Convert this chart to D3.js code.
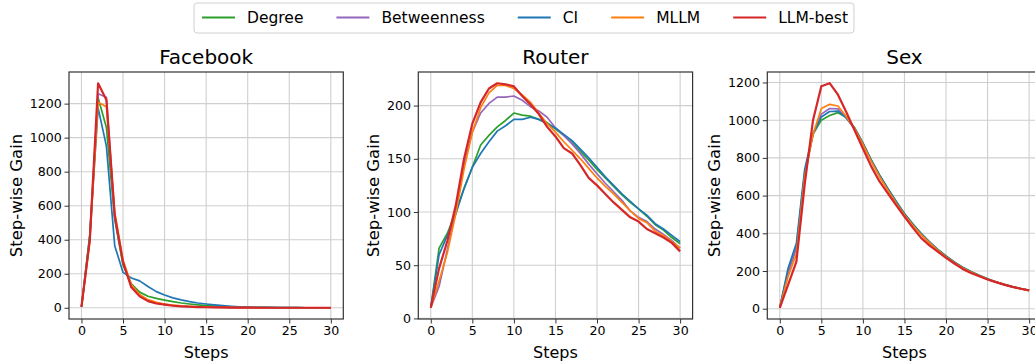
<html>
<head>
    <script src="https://d3js.org/d3.v7.min.js"></script>
    <style>
        body { margin: 0; background: #fff; }
        text { font-family: "DejaVu Sans", sans-serif; fill: #000; }
    </style>
</head>

<body>
    <div id="cont"></div>

    <script>
        // ---- data ----
        var steps = d3.range(0, 31);
        var methods = ["Degree", "Betweenness", "CI", "MLLM", "LLM-best"];
        var colors = ["#2ca02c", "#9467bd", "#1f77b4", "#ff7f0e", "#d62728"];
        var xTicks = [0, 5, 10, 15, 20, 25, 30];

        var facebookDegree = [5, 430, 1235, 1060, 520, 250, 140, 92, 68, 55, 45, 36, 28, 22, 17, 13, 10, 8, 6, 4, 3, 2, 2, 1, 1, 1, 1, 0, 0, 0, 0];
        var facebookBetweenness = [5, 400, 1258, 1238, 530, 265, 125, 70, 42, 28, 20, 14, 10, 7, 5, 4, 3, 2, 2, 1, 1, 1, 1, 0, 0, 0, 0, 0, 0, 0, 0];
        var facebookCI = [5, 420, 1175, 950, 365, 208, 175, 158, 125, 95, 75, 58, 46, 36, 28, 22, 17, 13, 9, 6, 4, 3, 2, 2, 1, 1, 1, 0, 0, 0, 0];
        var facebookMLLM = [5, 390, 1208, 1182, 560, 280, 135, 78, 48, 32, 22, 16, 11, 8, 6, 4, 3, 2, 2, 1, 1, 1, 1, 0, 0, 0, 0, 0, 0, 0, 0];
        var facebookLLM = [5, 395, 1320, 1222, 545, 268, 120, 67, 39, 25, 18, 12, 8, 6, 4, 3, 2, 2, 1, 1, 1, 0, 0, 0, 0, 0, 0, 0, 0, 0, 0];
        var facebookYTicks = [0, 200, 400, 600, 800, 1000, 1200];

        var routerDegree = [10, 66, 80, 100, 122, 142, 163, 172, 180, 186, 193, 191, 190, 187, 184, 178, 172, 165, 157, 149, 140, 132, 124, 116, 109, 103, 96, 88, 83, 76, 70];
        var routerBetweenness = [10, 30, 65, 100, 145, 175, 193, 202, 208, 208, 209, 205, 199, 195, 189, 179, 172, 164, 155, 145, 136, 127, 119, 111, 101, 95, 91, 84, 79, 73, 66];
        var routerCI = [10, 60, 78, 98, 122, 142, 155, 166, 176, 181, 187, 187, 189, 187, 183, 179, 173, 167, 159, 151, 142, 133, 125, 117, 110, 103, 97, 89, 84, 78, 72];
        var routerMLLM = [10, 35, 62, 98, 140, 175, 198, 212, 219, 219, 216, 210, 203, 193, 183, 175, 166, 158, 150, 141, 132, 124, 117, 109, 101, 94, 90, 82, 78, 72, 66];
        var routerLLM = [10, 47, 73, 106, 150, 183, 203, 216, 221, 220, 218, 209, 201, 192, 180, 171, 160, 155, 144, 132, 125, 117, 109, 102, 95, 91, 84, 80, 76, 71, 63];
        var routerYTicks = [0, 50, 100, 150, 200];

        var sexDegree = [5, 197, 330, 720, 925, 1000, 1025, 1040, 1015, 960, 880, 790, 710, 638, 570, 505, 450, 400, 355, 315, 280, 248, 220, 197, 177, 159, 143, 129, 117, 107, 98];
        var sexBetweenness = [5, 190, 320, 715, 925, 1032, 1062, 1060, 1012, 955, 875, 785, 705, 632, 565, 500, 446, 396, 352, 312, 277, 246, 218, 195, 175, 157, 142, 128, 116, 106, 97];
        var sexCI = [5, 215, 347, 740, 930, 1017, 1046, 1048, 1012, 958, 878, 788, 708, 636, 568, 503, 448, 398, 354, 314, 279, 247, 219, 196, 176, 158, 142, 128, 116, 106, 97];
        var sexMLLM = [5, 171, 290, 700, 925, 1062, 1084, 1075, 1020, 955, 872, 782, 700, 628, 560, 497, 443, 393, 350, 310, 275, 244, 216, 194, 174, 156, 141, 127, 115, 105, 96];
        var sexLLM = [5, 127, 250, 660, 1000, 1180, 1196, 1135, 1043, 946, 850, 755, 675, 612, 550, 489, 430, 376, 336, 303, 270, 240, 211, 190, 172, 155, 141, 128, 116, 106, 97];
        var sexYTicks = [0, 200, 400, 600, 800, 1000, 1200];

        var panels = [
            { title: "Facebook", series: [facebookDegree, facebookBetweenness, facebookCI, facebookMLLM, facebookLLM], yTicks: facebookYTicks, left: 69 },
            { title: "Router", series: [routerDegree, routerBetweenness, routerCI, routerMLLM, routerLLM], yTicks: routerYTicks, left: 418.3 },
            { title: "Sex", series: [sexDegree, sexBetweenness, sexCI, sexMLLM, sexLLM], yTicks: sexYTicks, left: 767.3 }
        ];

        // ---- layout ----
        var W = 1035, H = 362;
        var plotTop = 72, plotW = 274.3, plotH = 247;

        var svg = d3.select("#cont").append("svg")
            .attr("width", W)
            .attr("height", H);

        // matplotlib-style 5% margins
        var pad = function(ext) {
            var r = ext[1] - ext[0];
            return [ext[0] - 0.05 * r, ext[1] + 0.05 * r];
        };

        panels.forEach(function(p, pi) {
            var g = svg.append("g").attr("transform", "translate(" + p.left + "," + plotTop + ")");

            var x = d3.scaleLinear().domain(pad([0, 30])).range([0, plotW]);
            var allY = d3.merge(p.series);
            var y = d3.scaleLinear().domain(pad(d3.extent(allY))).range([plotH, 0]);

            // grid
            g.append("g").selectAll("line").data(xTicks).enter().append("line")
                .attr("x1", function(d) { return x(d); })
                .attr("x2", function(d) { return x(d); })
                .attr("y1", 0).attr("y2", plotH)
                .attr("stroke", "#cfcfcf").attr("stroke-width", 1.1);
            g.append("g").selectAll("line").data(p.yTicks).enter().append("line")
                .attr("y1", function(d) { return y(d); })
                .attr("y2", function(d) { return y(d); })
                .attr("x1", 0).attr("x2", plotW)
                .attr("stroke", "#cfcfcf").attr("stroke-width", 1.1);

            // lines
            var line = d3.line()
                .x(function(d, i) { return x(steps[i]); })
                .y(function(d) { return y(d); });
            p.series.forEach(function(s, si) {
                g.append("path")
                    .datum(s)
                    .attr("d", line)
                    .attr("fill", "none")
                    .attr("stroke", colors[si])
                    .attr("stroke-width", si == 4 ? 2.2 : 1.7)
                    .attr("stroke-linejoin", "round");
            });

            // frame
            g.append("rect")
                .attr("width", plotW).attr("height", plotH)
                .attr("fill", "none").attr("stroke", "#333").attr("stroke-width", 1.2);

            // axes
            var xa = g.append("g").attr("transform", "translate(0," + plotH + ")")
                .call(d3.axisBottom(x).tickValues(xTicks).tickFormat(d3.format("d")).tickSize(4.5).tickPadding(2.5));
            var ya = g.append("g")
                .call(d3.axisLeft(y).tickValues(p.yTicks).tickFormat(d3.format("d")).tickSize(4.5).tickPadding(2.8));
            [xa, ya].forEach(function(a) {
                a.select(".domain").remove();
                a.selectAll(".tick line").attr("stroke", "#333").attr("stroke-width", 1);
                a.selectAll(".tick text").style("font-size", "12.6px").style("font-family", "DejaVu Sans").attr("fill", "#000");
            });

            var maxW = 0;
            ya.selectAll(".tick text").each(function() {
                maxW = Math.max(maxW, this.getComputedTextLength());
            });

            // title and axis labels
            g.append("text")
                .attr("x", plotW / 2).attr("y", -8)
                .attr("text-anchor", "middle")
                .style("font-size", "20px")
                .text(p.title);
            g.append("text")
                .attr("x", plotW / 2).attr("y", 286)
                .attr("text-anchor", "middle")
                .style("font-size", "16px")
                .text("Steps");
            g.append("text")
                .attr("transform", "translate(" + (-7.3 - maxW - 5 - 8) + "," + (plotH / 2) + ") rotate(-90)")
                .attr("text-anchor", "middle")
                .attr("dominant-baseline", "central")
                .style("font-size", "16.5px")
                .text("Step-wise Gain");
        });

        // ---- legend ----
        var leg = svg.append("g");
        var box = leg.append("rect")
            .attr("x", 194).attr("y", 3).attr("height", 30)
            .attr("rx", 3).attr("ry", 3)
            .attr("fill", "#fff").attr("stroke", "#d0d0d0").attr("stroke-width", 1);
        var cx = 202;
        methods.forEach(function(m, i) {
            leg.append("line")
                .attr("x1", cx).attr("x2", cx + 33)
                .attr("y1", 17.5).attr("y2", 17.5)
                .attr("stroke", colors[i]).attr("stroke-width", 2);
            var t = leg.append("text")
                .attr("x", cx + 45).attr("y", 17.5)
                .attr("dominant-baseline", "central")
                .style("font-size", "15.5px")
                .text(m);
            cx = cx + 45 + t.node().getComputedTextLength() + 33;
        });
        box.attr("width", cx - 33 + 6 - 194);
    </script>
</body>
</html>
